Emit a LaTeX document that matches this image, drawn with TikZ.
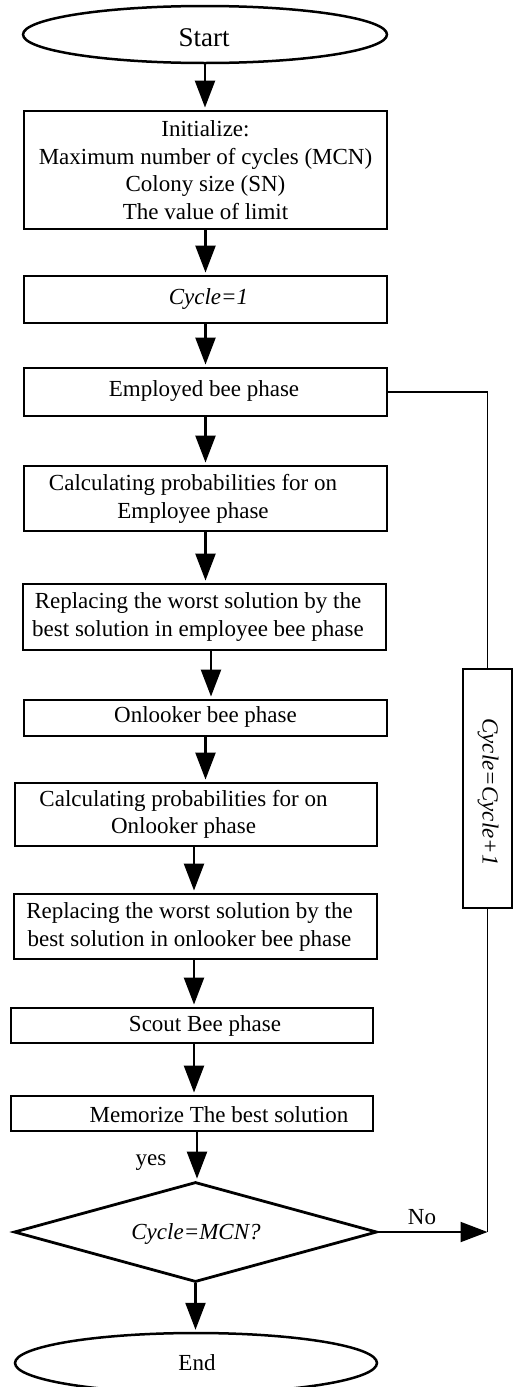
\documentclass[tikz,border=0pt]{standalone}
\usepackage{fontspec}
\setmainfont{Liberation Serif}
\usetikzlibrary{shapes.geometric,arrows.meta,calc}
\begin{document}
\begin{tikzpicture}[x=1pt,y=-1pt,
  txt/.style={font=\fontsize{23}{27.5}\selectfont, align=center, inner sep=0pt},
  box/.style={draw, rectangle, line width=2.9pt, minimum width=363pt, inner sep=0pt, txt},
  term/.style={draw, ellipse, line width=2.5pt, inner sep=0pt, txt},
  dec/.style={draw, diamond, aspect=3.63, line width=2.8pt, inner sep=0pt, minimum width=363pt, minimum height=100pt, txt},
  arr/.style={line width=2.4pt, -{Triangle[width=20pt,length=27pt]}, shorten >=2pt},
  noarr/.style={line width=2pt, -{Triangle[width=20pt,length=27pt]}},
  loopline/.style={line width=1.8pt}]
\useasboundingbox (0,0) rectangle (513,1387);

% shapes
\node[term, minimum width=364pt, minimum height=57pt] (start) at (205,34.5) {};
\node[txt, font=\fontsize{27}{30}\selectfont] (startt) at ($(start)+(-1,3.5)$) {Start};

\node[box, minimum height=118pt] (init) at (205.5,170) {Initialize:\\Maximum number of cycles (MCN)\\Colony size (SN)\\The value of limit};
\node[box, minimum height=47pt] (cyc1) at (205.5,299.5) {};
\node[txt] (cyc1t) at ($(cyc1)+(3,-1)$) {\textit{Cycle=1}};
\node[box, minimum height=48pt] (emp) at (205.5,392) {};
\node[txt] (empt) at ($(emp)+(-1.5,-1)$) {Employed bee phase};
\node[box, minimum height=65pt] (calc1) at (205.5,498.5) {};
\node[txt] (calc1t) at ($(calc1)+(-12.5,0.5)$) {Calculating probabilities for on\\Employee phase};
\node[box, minimum height=66pt] (rep1) at (204.5,617) {};
\node[txt] (rep1t) at ($(rep1)+(-6.5,0)$) {Replacing the worst solution by the\\best solution in employee bee phase};
\node[box, minimum height=36pt] (onl) at (205.5,718) {};
\node[txt] (onlt) at ($(onl)+(0,-1)$) {Onlooker bee phase};
\node[box, minimum width=362pt, minimum height=63pt] (calc2) at (196,814.5) {};
\node[txt] (calc2t) at ($(calc2)+(-12.5,0)$) {Calculating probabilities for on\\Onlooker phase};
\node[box, minimum height=65pt] (rep2) at (195.5,926.5) {};
\node[txt] (rep2t) at ($(rep2)+(-6,0.5)$) {Replacing the worst solution by the\\best solution in onlooker bee phase};
\node[box, minimum width=362pt, minimum height=35pt] (scout) at (192,1025.5) {};
\node[txt] (scoutt) at ($(scout)+(13,0)$) {Scout Bee phase};
\node[box, minimum width=362pt, minimum height=35pt] (mem) at (192,1113.5) {};
\node[txt] (memt) at ($(mem)+(27,1.5)$) {Memorize The best solution};
\node[dec] (dia) at (195.5,1232) {};
\node[txt] (diat) at ($(dia)+(0.5,2)$) {\textit{Cycle=MCN?}};
\node[term, minimum width=362pt, minimum height=60pt] (end) at (196,1363) {};
\node[txt] (endt) at ($(end)+(1,0)$) {End};

\node[draw, rectangle, line width=2.9pt, minimum width=49pt, minimum height=239pt, inner sep=0pt] (cycp) at (487.5,788.5) {};
\node[txt, rotate=-90] (cycpt) at ($(cycp)+(0.5,3.5)$) {\textit{Cycle=Cycle+1}};

\node[txt] (yes) at (151,1163) {yes};

% connectors
\draw[arr] (start.south) -- (start.south |- init.north);
\draw[arr] (init.south) -- (init.south |- cyc1.north);
\draw[arr] (cyc1.south) -- (cyc1.south |- emp.north);
\draw[arr] (emp.south) -- (emp.south |- calc1.north);
\draw[arr] (calc1.south) -- (calc1.south |- rep1.north);
\draw[arr] ([xshift=6.5pt]rep1.south) -- ([xshift=6.5pt]rep1.south |- onl.north);
\draw[arr] (onl.south) -- (onl.south |- calc2.north);
\draw[arr] ([xshift=-2pt]calc2.south) -- ([xshift=-2pt]calc2.south |- rep2.north);
\draw[arr] ([xshift=-1.5pt]rep2.south) -- ([xshift=-1.5pt]rep2.south |- scout.north);
\draw[arr] ([xshift=2pt]scout.south) -- ([xshift=2pt]scout.south |- mem.north);
\draw[arr] ([xshift=5pt]mem.south) -- ([xshift=5pt]mem.south |- dia.north);
\draw[arr] (dia.south) -- (dia.south |- end.north);

\draw[noarr] (dia.east) -- (dia.east -| cycp.south) node[txt, pos=0.4, above=6pt] (no) {No};
\draw[loopline] (cycp.south) -- (cycp.south |- dia.east);
\draw[loopline] (emp.east) -- (emp.east -| cycp.north) -- (cycp.north);
\end{tikzpicture}
\end{document}
